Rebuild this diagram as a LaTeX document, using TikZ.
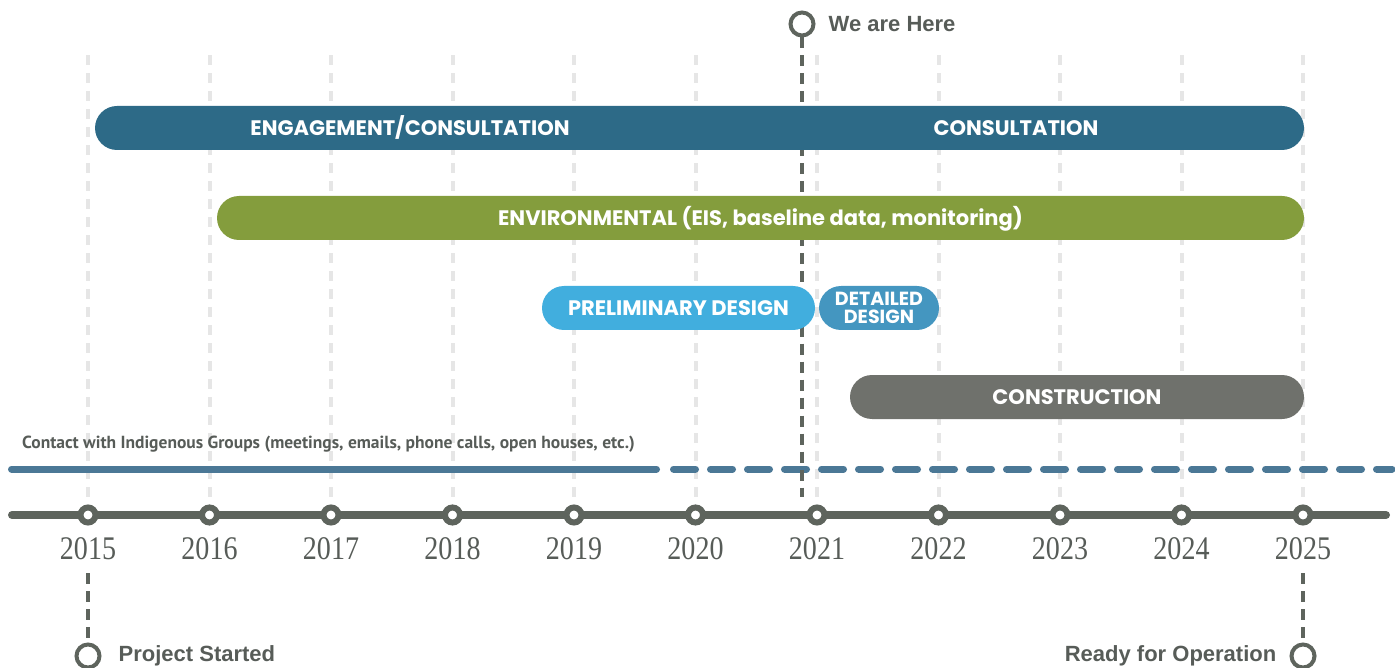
\documentclass[tikz,border=0pt]{standalone}
\usepackage{fontspec}
\setmainfont{Liberation Serif}
\newfontfamily\yearfont[FakeStretch=0.85]{Liberation Serif}
\newfontfamily\markfont{Liberation Sans}
\newfontfamily\barfont{Poppins}
\newfontfamily\notefont{PT Sans}
\usetikzlibrary{positioning}

\definecolor{engage}{HTML}{2D6A87}
\definecolor{enviro}{HTML}{849D3D}
\definecolor{prelim}{HTML}{41AEDE}
\definecolor{detail}{HTML}{4496C0}
\definecolor{constr}{HTML}{6F716C}
\definecolor{contact}{HTML}{4B7896}
\definecolor{axisgray}{HTML}{5E645D}
\definecolor{gridgray}{HTML}{E6E6E6}
\definecolor{textgray}{HTML}{575C58}

\begin{document}
\begin{tikzpicture}[x=1pt, y=-1pt,
        yearmark/.style={circle, draw=axisgray, fill=white, line width=6pt, inner sep=0pt, minimum size=15pt},
        yearlabel/.style={font=\yearfont\fontsize{33}{33}\selectfont, text=textgray, inner sep=0pt},
        milestone/.style={circle, draw=axisgray, fill=white, line width=4pt, inner sep=0pt, minimum size=23pt},
        milestone_text/.style={font=\markfont\bfseries\fontsize{22}{22}\selectfont, text=textgray, inner sep=0pt},
        bar/.style={rectangle, rounded corners=22pt, minimum height=44pt, inner sep=0pt},
        bar_text/.style={font=\barfont\bfseries\fontsize{21}{21}\selectfont, text=white, inner sep=0pt, text height=14.5pt, text depth=0pt},
        gridline/.style={draw=gridgray, line width=4pt, dash pattern=on 10pt off 8pt},
        milestone_line/.style={draw=axisgray, line width=4pt, dash pattern=on 11pt off 7pt}
    ]
    \useasboundingbox (0,0) rectangle (1395,668);

    % Asse temporale
    \coordinate (axL) at (12,515);
    \coordinate (axR) at (1386,515);
    \draw[axisgray, line width=8pt, line cap=round] (axL) -- (axR);

    % Anni e griglia
    \foreach \yr [count=\i from 0] in {2015,...,2025} {
        \node[yearmark] (y\yr) at ({88+121.5*\i},515) {};
        \node[yearlabel] (l\yr) at ({88+121.5*\i},549) {\yr};
        \coordinate (g\yr) at ({88+121.5*\i},55);
        \draw[gridline] (g\yr) -- (y\yr);
    }

    % Contatti con i gruppi indigeni
    \node[font=\notefont\bfseries\fontsize{17.5}{17.5}\selectfont, text=textgray, inner sep=0pt, anchor=base west] (note) at (22,448)
        {Contact with Indigenous Groups (meetings, emails, phone calls, open houses, etc.)};
    \coordinate (cL) at (11.5,469);
    \coordinate (cM) at (656.5,469);
    \coordinate (cN) at (673.5,469);
    \coordinate (cR) at (1392,469);
    \draw[contact, line width=7pt, line cap=round] (cL) -- (cM);
    \draw[contact, line width=7pt, line cap=round, dash pattern=on 22pt off 15pt] (cN) -- (cR);

    % Siamo qui
    \node[milestone] (here) at (802,24) {};
    \node[milestone_text, anchor=west, right=13pt of here] (hereText) {We are Here};
    \coordinate (hereEnd) at (802,497);
    \draw[milestone_line] (here) -- (hereEnd);

    % Fasi
    \node[bar, fill=engage, minimum width=1209pt] (engBar) at (699.5,128) {};
    \node[bar_text] (engText) at (410,128) {ENGAGEMENT/CONSULTATION};
    \node[bar_text] (conText) at (1016,128) {CONSULTATION};
    \node[bar, bar_text, fill=enviro, minimum width=1087pt] (envBar) at (760.5,218) {ENVIRONMENTAL (EIS, baseline data, monitoring)};
    \node[bar, bar_text, fill=prelim, minimum width=273pt] (preBar) at (678.5,308) {PRELIMINARY DESIGN};
    \node[bar, fill=detail, minimum width=120pt, align=center, text=white,
          font=\barfont\bfseries\fontsize{19}{18}\selectfont] (detBar) at (879,308) {DETAILED\\DESIGN};
    \node[bar, bar_text, fill=constr, minimum width=454pt] (conBar) at (1077,397) {CONSTRUCTION};

    % Inizio e fine
    \node[milestone] (start) at (88,656) {};
    \node[milestone_text, right=17pt of start] (startText) {Project Started};
    \draw[milestone_line, shorten <=13pt] (l2015) -- (start);
    \node[milestone] (ready) at (1303,656) {};
    \node[milestone_text, left=13pt of ready] (readyText) {Ready for Operation};
    \draw[milestone_line, shorten <=13pt] (l2025) -- (ready);
\end{tikzpicture}
\end{document}
